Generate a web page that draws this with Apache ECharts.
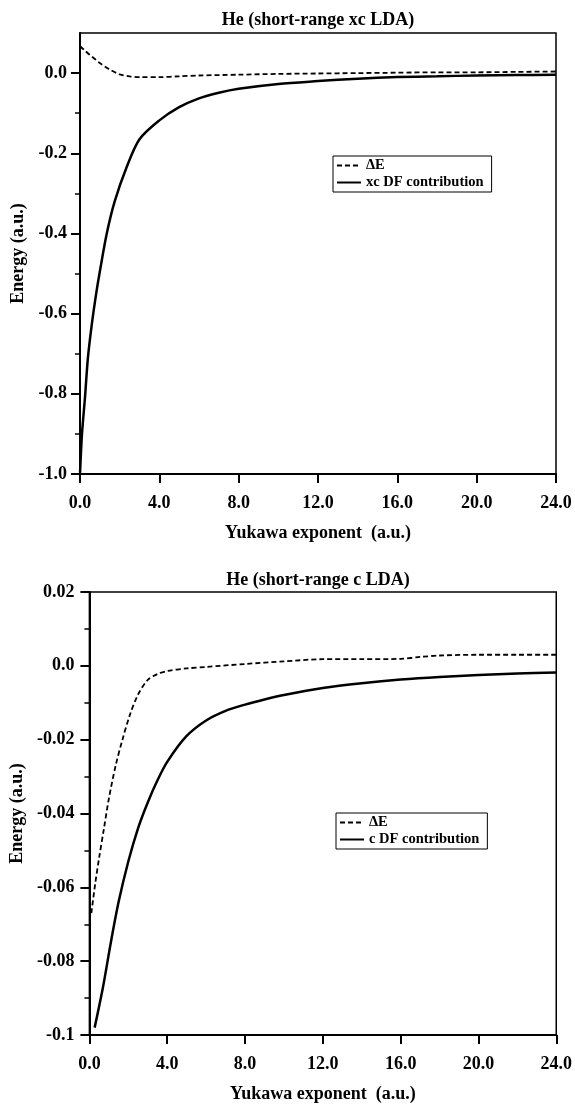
<!DOCTYPE html>
<html>
<head>
<meta charset="utf-8">
<script src="https://cdn.jsdelivr.net/npm/echarts@6/dist/echarts.min.js"></script>
<style>
  html, body { margin: 0; padding: 0; background: #fff; }
  #chart { width: 575px; height: 1104px; }
</style>
</head>
<body>
<div id="chart"></div>
<script>
// top panel: He (short-range xc LDA)
const xcDeltaX = [0, 0.25, 0.5, 0.75, 1, 1.5, 2, 2.5, 3, 4, 5, 6, 8, 10, 12, 14, 16, 18, 20, 22, 24];
const xcDeltaY = [0.067, 0.056, 0.045, 0.035, 0.025, 0.009, -0.003, -0.008, -0.010, -0.010, -0.008, -0.006, -0.004, -0.002, -0.001, 0.000, 0.001, 0.002, 0.002, 0.003, 0.004];
const xcDfX = [0, 0.1, 0.25, 0.4, 0.6, 0.8, 1.0, 1.35, 1.75, 2.35, 3.0, 4.0, 5.0, 6.0, 7.0, 8.0, 10, 12, 14, 16, 18, 20, 22, 24];
const xcDfY = [-1.0, -0.9, -0.81, -0.71, -0.625, -0.555, -0.495, -0.40, -0.32, -0.235, -0.165, -0.118, -0.085, -0.063, -0.049, -0.039, -0.027, -0.020, -0.014, -0.010, -0.008, -0.006, -0.005, -0.004];

// bottom panel: He (short-range c LDA)
const cDeltaX = [0.1, 0.3, 0.5, 0.75, 1.0, 1.35, 1.7, 2.1, 2.5, 3.0, 3.5, 4.0, 5, 6, 8, 10, 12, 14, 16, 17, 18, 20, 22, 24];
const cDeltaY = [-0.067, -0.059, -0.052, -0.044, -0.036, -0.027, -0.020, -0.013, -0.0078, -0.0038, -0.0022, -0.0014, -0.0007, -0.0003, 0.0005, 0.0012, 0.0018, 0.0018, 0.0019, 0.0024, 0.0028, 0.003, 0.003, 0.003];
const cDfX = [0.27, 0.7, 1.1, 1.5, 2.0, 2.5, 3.0, 3.5, 4.0, 5.0, 6.0, 7.0, 8.0, 9.0, 10, 12, 14, 16, 18, 20, 22, 24];
const cDfY = [-0.098, -0.087, -0.075, -0.064, -0.053, -0.044, -0.037, -0.031, -0.026, -0.019, -0.0148, -0.0122, -0.0105, -0.0091, -0.0079, -0.006, -0.0047, -0.0037, -0.003, -0.0025, -0.0021, -0.0018];

// ticks
const xLabels = ['0.0', '4.0', '8.0', '12.0', '16.0', '20.0', '24.0'];
const topYTicks = [-1.0, -0.8, -0.6, -0.4, -0.2, 0.0];
const topYLabels = ['-1.0', '-0.8', '-0.6', '-0.4', '-0.2', '0.0'];
const topYMinor = [-0.9, -0.7, -0.5, -0.3, -0.1];
const botYTicks = [-0.1, -0.08, -0.06, -0.04, -0.02, 0.0, 0.02];
const botYLabels = ['-0.1', '-0.08', '-0.06', '-0.04', '-0.02', '0.0', '0.02'];
const botYMinor = [-0.09, -0.07, -0.05, -0.03, -0.01, 0.01];

const FONT = 'Liberation Serif';
const pair = (xs, ys) => xs.map((x, i) => [x, ys[i]]);
const lookup = (ticks, labels) => v => {
  const i = ticks.findIndex(t => Math.abs(t - v) < 1e-9);
  return i < 0 ? '' : labels[i];
};
const txt = (size) => ({ fontFamily: FONT, fontWeight: 'bold', fontSize: size, color: '#000' });

function xAxis(gridIndex) {
  return {
    type: 'value', gridIndex, min: 0, max: 24, interval: 4, position: 'bottom',
    name: 'Yukawa exponent  (a.u.)', nameLocation: 'middle', nameGap: 50,
    nameTextStyle: txt(18),
    axisLine: { onZero: false, lineStyle: { color: '#000', width: 2 } },
    axisTick: { length: 9, lineStyle: { color: '#000', width: 2 } },
    axisLabel: Object.assign(txt(18), { margin: 20, formatter: v => xLabels[Math.round(v / 4)] }),
    splitLine: { show: false }
  };
}

function yAxis(gridIndex, min, max, ticks, labels, nameGap, margin) {
  return {
    type: 'value', gridIndex, min, max, position: 'left',
    name: 'Energy (a.u.)', nameLocation: 'middle', nameGap,
    nameTextStyle: txt(18),
    axisLine: { onZero: false, lineStyle: { color: '#000', width: 2 } },
    axisTick: { customValues: ticks, length: 9, lineStyle: { color: '#000', width: 2 } },
    axisLabel: Object.assign(txt(18), { customValues: ticks, margin, formatter: lookup(ticks, labels) }),
    splitLine: { show: false }
  };
}

function minorAxis(gridIndex, min, max, minor) {
  return {
    type: 'value', gridIndex, min, max, position: 'left',
    axisLine: { show: false, onZero: false },
    axisTick: { customValues: minor, length: 5, lineStyle: { color: '#000', width: 1.5 } },
    axisLabel: { show: false },
    splitLine: { show: false }
  };
}

function legend(names, left, top) {
  return {
    data: names, orient: 'vertical', left, top,
    itemWidth: 24, itemHeight: 10, itemGap: 2, padding: [2, 8, 2, 3],
    itemStyle: { opacity: 0 },
    borderColor: '#000', borderWidth: 1, textStyle: txt(14.5), selectedMode: false
  };
}

const dashed = { color: '#000', width: 1.8, type: [5, 3] };
const solid = { color: '#000', width: 2.5 };

const chart = echarts.init(document.getElementById('chart'));
chart.setOption({
  animation: false,
  backgroundColor: '#fff',
  graphic: [
    { type: 'text', x: 318, y: 20, style: { text: 'He (short-range xc LDA)', font: 'bold 18px "Liberation Serif"', fill: '#000', align: 'center', verticalAlign: 'middle' } },
    { type: 'text', x: 318, y: 580, style: { text: 'He (short-range c LDA)', font: 'bold 18px "Liberation Serif"', fill: '#000', align: 'center', verticalAlign: 'middle' } }
  ],
  grid: [
    { left: 80, top: 33, right: 19, height: 441, show: true, borderColor: '#000', borderWidth: 1.5 },
    { left: 83, top: 592, right: 17, height: 445, show: true, borderColor: '#000', borderWidth: 1.5 }
  ],
  legend: [
    legend(['ΔE', 'xc DF contribution'], 333, 156),
    legend(['ΔE', 'c DF contribution'], 336, 813)
  ],
  xAxis: [xAxis(0), xAxis(1)],
  yAxis: [
    yAxis(0, -1.0, 0.1, topYTicks, topYLabels, 40, 13),
    yAxis(1, -0.1, 0.02, botYTicks, botYLabels, 58, 15),
    minorAxis(0, -1.0, 0.1, topYMinor),
    minorAxis(1, -0.1, 0.02, botYMinor)
  ],
  series: [
    { name: 'ΔE', type: 'line', xAxisIndex: 0, yAxisIndex: 0, data: pair(xcDeltaX, xcDeltaY), symbol: 'none', smooth: 0.3, lineStyle: dashed, itemStyle: { color: '#000' } },
    { name: 'xc DF contribution', type: 'line', xAxisIndex: 0, yAxisIndex: 0, data: pair(xcDfX, xcDfY), symbol: 'none', smooth: 0.3, lineStyle: solid, itemStyle: { color: '#000' } },
    { name: 'ΔE', type: 'line', xAxisIndex: 1, yAxisIndex: 1, data: pair(cDeltaX, cDeltaY), symbol: 'none', smooth: 0.3, lineStyle: dashed, itemStyle: { color: '#000' } },
    { name: 'c DF contribution', type: 'line', xAxisIndex: 1, yAxisIndex: 1, data: pair(cDfX, cDfY), symbol: 'none', smooth: 0.3, lineStyle: solid, itemStyle: { color: '#000' } }
  ]
});
</script>
</body>
</html>
